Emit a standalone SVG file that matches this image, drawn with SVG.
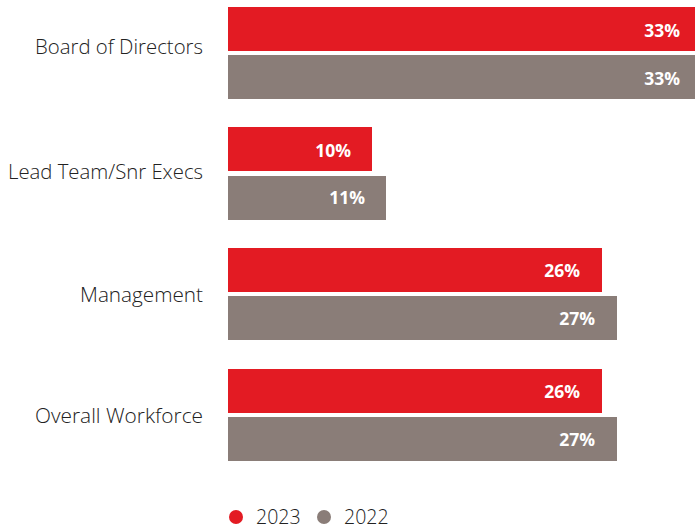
<svg xmlns="http://www.w3.org/2000/svg" width="695" height="529" viewBox="0 0 695 529">
<style>
.r{fill:#E31B23}
.g{fill:#8A7D78}
.lab{font-family:"Open Sans","Liberation Sans",sans-serif;font-size:19.8px;font-weight:300;fill:#222;text-anchor:end}
.val{font-family:"Open Sans","Liberation Sans",sans-serif;font-size:17.5px;font-weight:bold;fill:#fff;text-anchor:end}
.leg{font-family:"Open Sans","Liberation Sans",sans-serif;font-size:19.5px;font-weight:300;fill:#222}
</style>
<rect width="695" height="529" fill="#fff"/>
<g id="board">
<text class="lab" x="203" y="54" textLength="168" lengthAdjust="spacingAndGlyphs">Board of Directors</text>
<rect class="r" x="228" y="7" width="467" height="44"/>
<text class="val" x="680" y="37">33%</text>
<rect class="g" x="228" y="55" width="467" height="44"/>
<text class="val" x="680" y="85">33%</text>
</g>
<g id="lead">
<text class="lab" x="203" y="179" textLength="195" lengthAdjust="spacingAndGlyphs">Lead Team/Snr Execs</text>
<rect class="r" x="228" y="127" width="144" height="44"/>
<text class="val" x="351" y="157">10%</text>
<rect class="g" x="228" y="176" width="158" height="44"/>
<text class="val" x="365" y="204">11%</text>
</g>
<g id="management">
<text class="lab" x="203" y="302" textLength="123" lengthAdjust="spacingAndGlyphs">Management</text>
<rect class="r" x="228" y="248" width="374" height="44"/>
<text class="val" x="580" y="277">26%</text>
<rect class="g" x="228" y="296" width="389" height="44"/>
<text class="val" x="595" y="325">27%</text>
</g>
<g id="overall">
<text class="lab" x="203" y="423" textLength="168" lengthAdjust="spacingAndGlyphs">Overall Workforce</text>
<rect class="r" x="228" y="369" width="374" height="44"/>
<text class="val" x="580" y="398">26%</text>
<rect class="g" x="228" y="417" width="389" height="44"/>
<text class="val" x="595" y="446">27%</text>
</g>
<g id="legend">
<circle class="r" cx="236" cy="517" r="7"/>
<text class="leg" x="256" y="524">2023</text>
<circle class="g" cx="324" cy="517" r="7"/>
<text class="leg" x="344" y="524">2022</text>
</g>
<g id="connectors"/>
</svg>
